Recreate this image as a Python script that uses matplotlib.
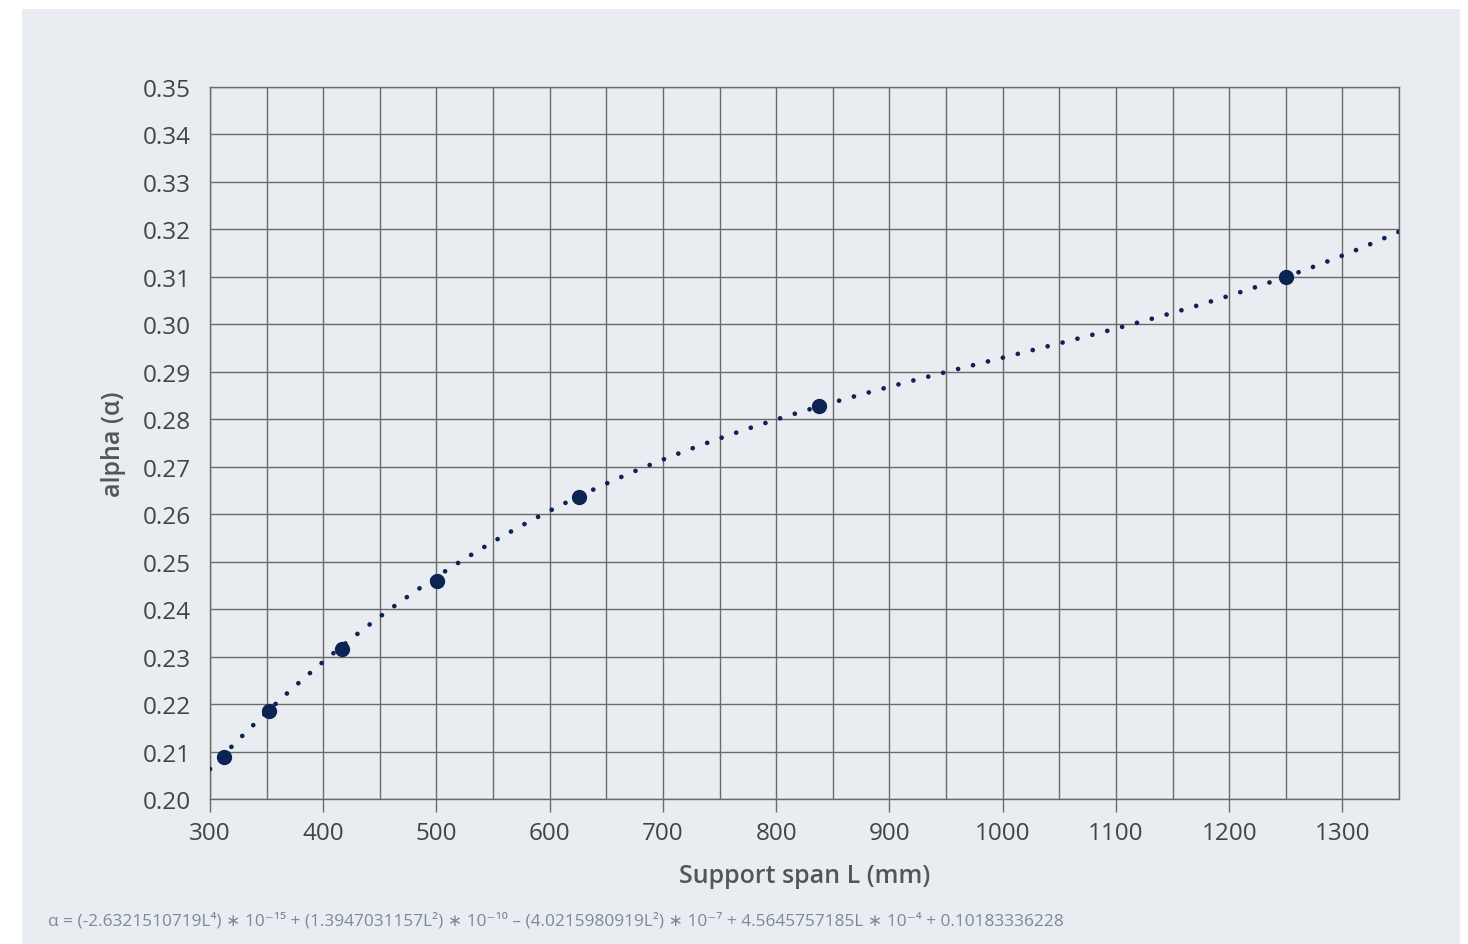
import numpy as np
import matplotlib
matplotlib.use("Agg")
import matplotlib.pyplot as plt
from matplotlib.patches import Rectangle
from matplotlib.ticker import MultipleLocator, FormatStrFormatter

# ---- data ----
span_mm = [312, 352, 417, 500.5, 626, 838, 1250.5]
alpha_vals = [0.2088, 0.2185, 0.2316, 0.2459, 0.2636, 0.2827, 0.3099]
# trendline coefficients shown in the chart (highest power first)
trend_coeffs = [-2.6321510719e-15, 1.3947031157e-10, -4.0215980919e-7, 4.5645757185e-4, 0.10183336228]
x_ticks = [300, 400, 500, 600, 700, 800, 900, 1000, 1100, 1200, 1300]
y_ticks = [0.20, 0.21, 0.22, 0.23, 0.24, 0.25, 0.26, 0.27, 0.28, 0.29, 0.30, 0.31, 0.32, 0.33, 0.34, 0.35]
equation = ("α = (-2.6321510719L⁴) ∗ 10⁻¹⁵ + (1.3947031157L²) ∗ 10⁻¹⁰ – (4.0215980919L²) ∗ 10⁻⁷"
            " + 4.5645757185L ∗ 10⁻⁴ + 0.10183336228")

FONT = ['Open Sans', 'DejaVu Sans']
plt.rcParams['font.family'] = FONT

W, H = 1468, 945
fig = plt.figure(figsize=(W / 100, H / 100), dpi=100, facecolor='white')
bg = '#e9edf1'
fig.add_artist(Rectangle((22 / W, 0), (1460 - 22) / W, (945 - 10) / H,
                         transform=fig.transFigure, facecolor=bg, edgecolor='none', zorder=-5))

ax = fig.add_axes([210 / W, 1 - 800 / H, (1399 - 210) / W, (800 - 88) / H])
ax.set_zorder(1)
ax.set_facecolor(bg)
ax.set_xlim(300, 1350)
ax.set_ylim(0.20, 0.35)

gridc = '#6a6a6a'
ax.set_xticks(x_ticks)
ax.xaxis.set_minor_locator(MultipleLocator(50))
ax.set_yticks(y_ticks)
ax.yaxis.set_major_formatter(FormatStrFormatter('%.2f'))
ax.grid(True, which='both', color=gridc, linewidth=1.0)
ax.set_axisbelow(True)
for s in ax.spines.values():
    s.set_color(gridc)
    s.set_linewidth(1.0)

ax.tick_params(axis='x', which='major', length=9, width=1.0, color=gridc, pad=7,
               labelsize=17.5, labelcolor='#444444')
ax.tick_params(axis='x', which='minor', length=0)
ax.tick_params(axis='y', length=0, pad=14, labelsize=17.5, labelcolor='#444444')

# trendline
xx = np.linspace(300, 1350, 600)
yy = np.polyval(trend_coeffs, xx)
ax.plot(xx, yy, color='#0b2454', linewidth=3.4, linestyle=(0, (0.01, 3.25)),
        dash_capstyle='round', zorder=3)

ax.plot(span_mm, alpha_vals, 'o', color='#0b2454', markersize=10, zorder=4, clip_on=False)

ax.set_xlabel('Support span L (mm)', fontsize=18, fontweight='semibold', color='#555555', labelpad=13)
ax.set_ylabel('alpha (α)', fontsize=18, fontweight='semibold', color='#555555', labelpad=12)

fig.text(48 / W, 1 - 921 / H, equation, fontsize=12.4, color='#7a8a99', va='center', ha='left')

fig.savefig('out.png', dpi=100, facecolor='white')
